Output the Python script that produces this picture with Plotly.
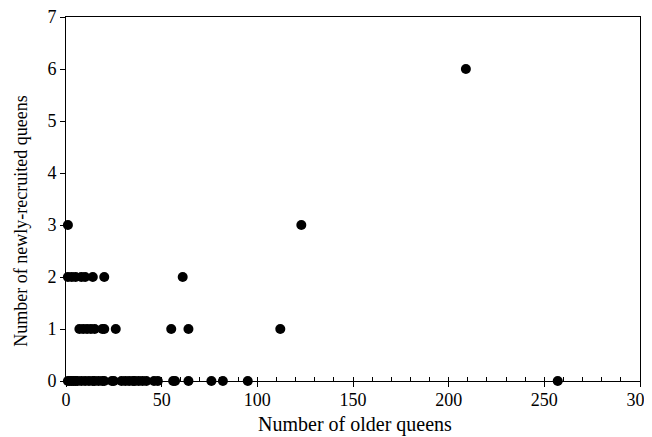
import plotly.graph_objects as go

# Number of older queens (x) and newly-recruited queens (y)
older_y0 = [1, 2, 3, 4, 5, 6, 8, 10, 12, 14, 15, 17, 19, 20, 24, 25, 29, 31, 33,
            35, 36, 38, 40, 42, 46, 48, 56, 57, 64, 76, 82, 95, 257]
older_y1 = [7, 9, 11, 13, 15, 19, 20, 26, 55, 64, 112]
older_y2 = [1, 3, 5, 8, 10, 14, 20, 61]
older_y3 = [1, 123]
older_y6 = [209]

older = older_y0 + older_y1 + older_y2 + older_y3 + older_y6
recruited = ([0] * len(older_y0) + [1] * len(older_y1) + [2] * len(older_y2)
             + [3] * len(older_y3) + [6] * len(older_y6))

x_title = "Number of older queens"
y_title = "Number of newly-recruited queens"

fig = go.Figure(go.Scatter(
    x=older, y=recruited, mode="markers",
    marker=dict(color="black", size=10, line=dict(width=0)),
    cliponaxis=False, showlegend=False,
))

font = "Liberation Serif, Times New Roman, serif"
fig.update_layout(
    width=644, height=429,
    margin=dict(l=58, r=12, t=9, b=56, autoexpand=False),
    paper_bgcolor="white", plot_bgcolor="white",
    font=dict(family=font, size=18, color="black"),
    xaxis=dict(
        range=[0, 300], tickvals=[0, 50, 100, 150, 200, 250, 300],
        ticks="outside", ticklen=5, tickcolor="black",
        showline=True, linecolor="black", linewidth=1, mirror=True,
        showgrid=False, zeroline=False, automargin=False,
        ticklabeloverflow="allow", ticklabelstandoff=-3,
        minor=dict(dtick=10, ticks="inside", ticklen=4, tickcolor="black", showgrid=False),
    ),
    yaxis=dict(
        range=[0, 7], dtick=1,
        ticks="outside", ticklen=5, tickcolor="black",
        showline=True, linecolor="black", linewidth=1, mirror=True,
        showgrid=False, zeroline=False, automargin=False,
        ticklabeloverflow="allow",
    ),
    annotations=[
        dict(text=x_title, xref="paper", yref="paper", x=0.503, y=-0.12,
             xanchor="center", yanchor="middle", showarrow=False,
             font=dict(size=20)),
        dict(text=y_title, xref="paper", yref="paper", x=-0.08, y=0.438,
             xanchor="center", yanchor="middle", showarrow=False, textangle=-90,
             font=dict(size=18)),
    ],
)

fig.write_html("out.html")
